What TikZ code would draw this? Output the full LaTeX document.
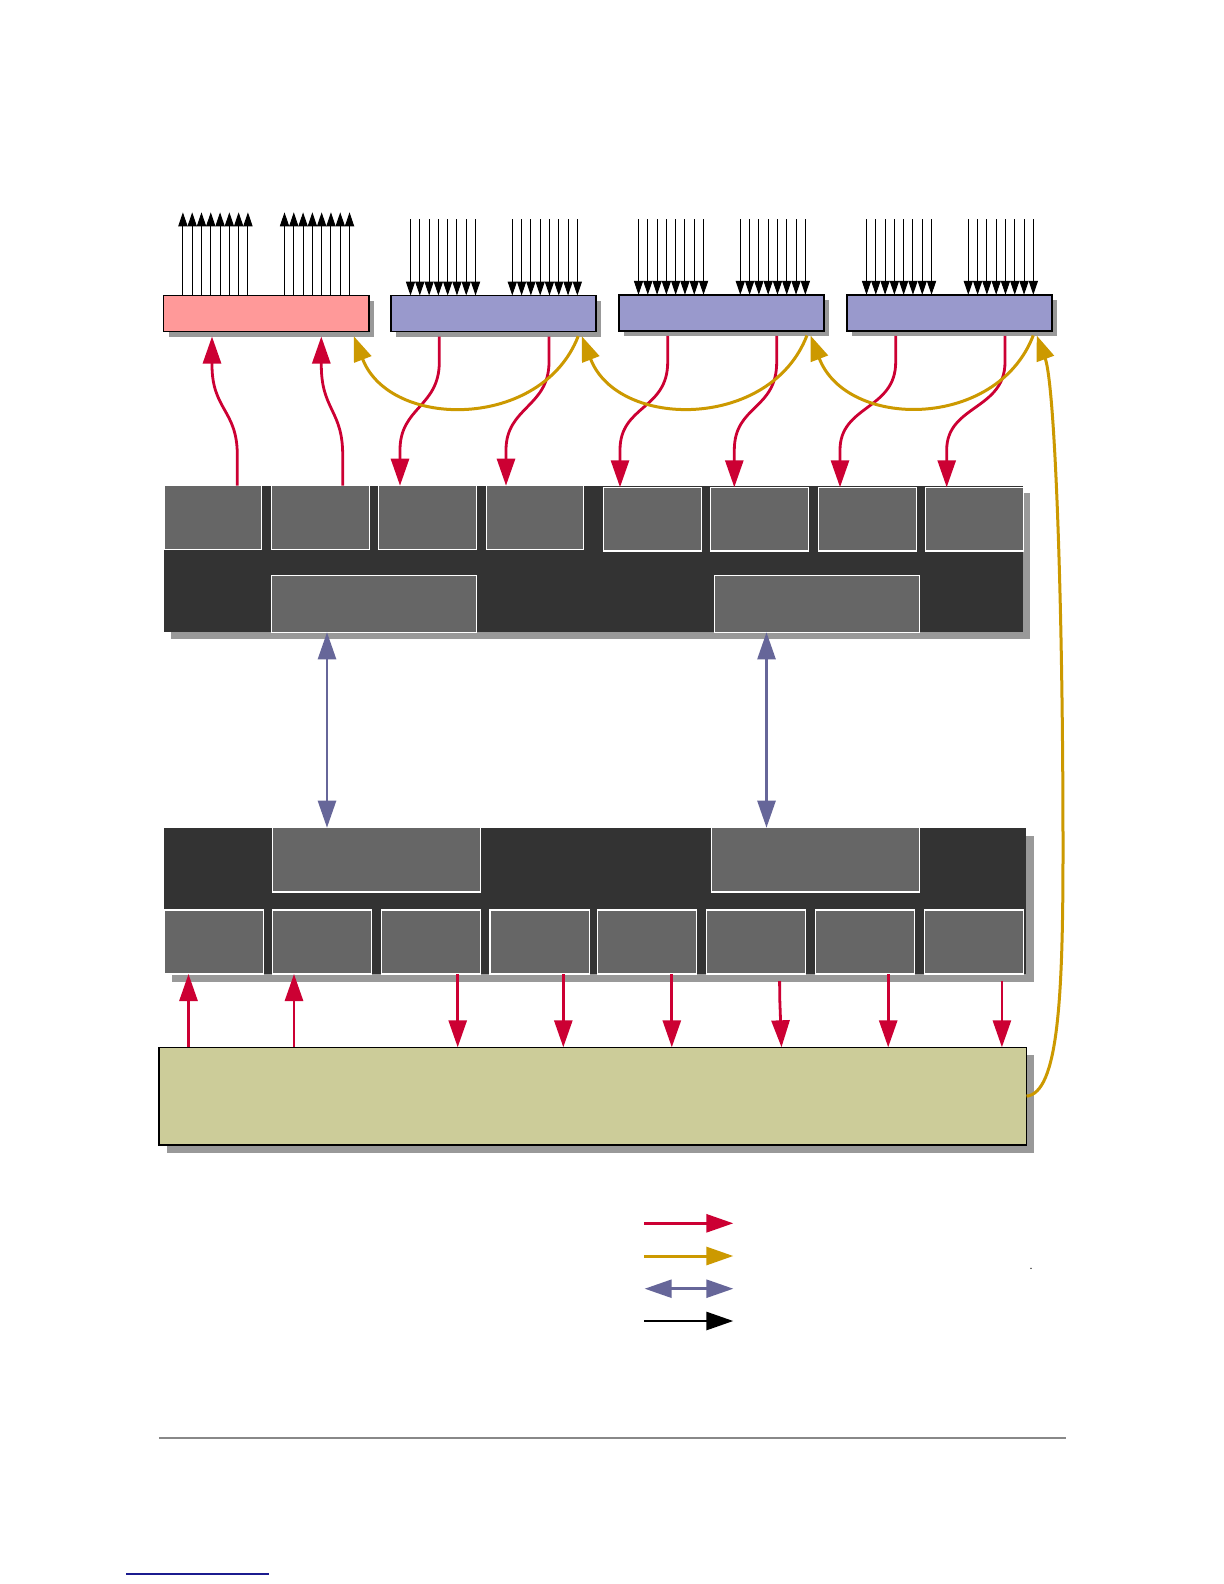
\documentclass[tikz,border=0pt]{standalone}
\usetikzlibrary{arrows.meta,shadows}
\definecolor{redc}{HTML}{CC0033}
\definecolor{goldc}{HTML}{CC9900}
\definecolor{bluearr}{HTML}{666699}
\definecolor{pinkc}{HTML}{FF9999}
\definecolor{bluebox}{HTML}{9999CC}
\definecolor{khakic}{HTML}{CCCC99}
\definecolor{darkc}{HTML}{333333}
\definecolor{subc}{HTML}{666666}
\definecolor{shadowc}{HTML}{999999}
\definecolor{rulec}{HTML}{888888}
\definecolor{linkc}{HTML}{1B1B8F}
\begin{document}
\begin{tikzpicture}[x=0.5pt,y=-0.5pt,
  bx/.style 2 args={rectangle, inner sep=0pt, outer sep=0pt, anchor=north west,
     minimum width=#1*0.5pt, minimum height=#2*0.5pt},
  shad/.style={drop shadow={shadow xshift=#1, shadow yshift=-#1, fill=shadowc, opacity=1}},
  topbox/.style={draw=black, line width=0.9pt, shad=2.5pt},
  block/.style={fill=darkc, shad=#1},
  subbox/.style={fill=subc, draw=white, line width=0.6pt},
  rarr/.style={draw=redc, line width=1.4pt, -{Triangle[length=13.5pt,width=9pt]}},
  garr/.style={draw=goldc, line width=1.5pt, -{Triangle[length=12.5pt,width=9pt]}},
  barr/.style={draw=bluearr, line width=1.3pt, {Triangle[length=13.5pt,width=9pt]}-{Triangle[length=13.5pt,width=9pt]}},
  karr/.style={draw=black, line width=1.4pt, -{Triangle[length=13.5pt,width=9pt]}},
  blk/.style={draw=black, line width=0.5pt, -{Triangle[length=7pt,width=4.6pt]}}
]
\useasboundingbox (0,0) rectangle (1224,1584);
\fill[white] (0,0) rectangle (1224,1584);

% ---------- top boxes ----------
\node[bx={205.5}{36}, topbox, fill=pinkc] (pink) at (163.5,295.5) {};
\node[bx={205}{36}, topbox, fill=bluebox] (b1) at (391.3,295.5) {};
\node[bx={205}{36}, topbox, fill=bluebox] (b2) at (619.3,294.8) {};
\node[bx={205}{36}, topbox, fill=bluebox] (b3) at (847.3,294.8) {};

% ---------- middle block ----------
\node[bx={859.3}{146.6}, block=3.5pt] (mid) at (164,485.7) {};
\node[bx={97.3}{63.6}, subbox] (m1) at (164,485.7) {};
\node[bx={98}{63.6}, subbox] (m2) at (271.3,485.7) {};
\node[bx={98}{63.6}, subbox] (m3) at (378.3,485.7) {};
\node[bx={97}{63.6}, subbox] (m4) at (486.3,485.7) {};
\node[bx={98}{63.7}, subbox] (m5) at (603.3,487.3) {};
\node[bx={98}{63.7}, subbox] (m6) at (710.3,487.3) {};
\node[bx={98}{63.7}, subbox] (m7) at (818.3,487.3) {};
\node[bx={98}{63.7}, subbox] (m8) at (925.3,487.3) {};
\node[bx={205}{57}, subbox] (mA) at (271.3,575.3) {};
\node[bx={205}{57}, subbox] (mB) at (714.3,575.3) {};

% ---------- lower block ----------
\node[bx={862}{146.3}, block=4pt] (low) at (164,827.7) {};
\node[bx={208}{64.3}, subbox] (lA) at (272.3,827.7) {};
\node[bx={208.4}{64.3}, subbox] (lB) at (711.3,827.7) {};
\node[bx={99.7}{64}, subbox] (l1) at (164,910) {};
\node[bx={99.4}{64}, subbox] (l2) at (272.3,910) {};
\node[bx={99.4}{64}, subbox] (l3) at (381.3,910) {};
\node[bx={99.3}{64}, subbox] (l4) at (490,910) {};
\node[bx={99}{64}, subbox] (l5) at (597.3,910) {};
\node[bx={99}{64}, subbox] (l6) at (706.3,910) {};
\node[bx={98.6}{64}, subbox] (l7) at (815.7,910) {};
\node[bx={99}{64}, subbox] (l8) at (924.3,910) {};

% ---------- khaki box ----------
\node[bx={867.5}{97.7}, fill=khakic, draw=black, line width=0.6pt, shad=3.75pt] (khaki) at (159,1047.3) {};

% ---------- black arrow bundles ----------
\foreach \g in {19.4,121}{\foreach \k in {0,...,7}{
  \pgfmathsetmacro\xx{163.5+\g+\k*9.29}
  \coordinate (pend) at (\xx,212.3);
  \draw[blk] (\xx,0 |- pink.north) -- (pend);
}}
\foreach \b/\L in {b1/391.3,b2/619.3,b3/847.3}{\foreach \g in {19.2,121}{\foreach \k in {0,...,7}{
  \pgfmathsetmacro\xx{\L+\g+\k*9.29}
  \coordinate (bstart) at (\xx,219);
  \draw[blk] (bstart) -- (\xx,0 |- \b.north);
}}}

% ---------- red arrows: middle block <-> top boxes ----------
\draw[rarr, shorten >=2.5pt] (237.3,0 |- m1.north) -- (237.3,455) .. controls (237.3,410) and (212,410) .. (212,365) -- (212,0 |- pink.south);
\draw[rarr, shorten >=2.5pt] (342.7,0 |- m2.north) -- (342.7,455) .. controls (342.7,410) and (321.3,410) .. (321.3,365) -- (321.3,0 |- pink.south);

\draw[rarr, shorten <=2.5pt] (439.3,0 |- b1.south) -- (439.3,362) .. controls (439.3,407) and (400,407) .. (400,450) -- (400,0 |- m3.north);
\draw[rarr, shorten <=2.5pt] (549,0 |- b1.south) -- (549,362) .. controls (549,407) and (506,407) .. (506,450) -- (506,0 |- m4.north);
\draw[rarr, shorten <=2.5pt] (667.7,0 |- b2.south) -- (667.7,362) .. controls (667.7,410) and (620,405) .. (620,450) -- (620,0 |- m5.north);
\draw[rarr, shorten <=2.5pt] (776.7,0 |- b2.south) -- (776.7,362) .. controls (776.7,410) and (734.3,405) .. (734.3,450) -- (734.3,0 |- m6.north);
\draw[rarr, shorten <=2.5pt] (895.7,0 |- b3.south) -- (895.7,362) .. controls (895.7,410) and (840,405) .. (840,450) -- (840,0 |- m7.north);
\draw[rarr, shorten <=2.5pt] (1005,0 |- b3.south) -- (1005,362) .. controls (1005,410) and (946.7,405) .. (946.7,450) -- (946.7,0 |- m8.north);

% ---------- gold arrows between top boxes ----------
\draw[garr, shorten <=2.5pt, shorten >=2.5pt] (580,0 |- b1.south) .. controls (542,430) and (390,430) .. (352,0 |- pink.south);
\draw[garr, shorten <=2.5pt, shorten >=2.5pt] (808.7,0 |- b2.south) .. controls (770.7,430) and (618,430) .. (580,0 |- b1.south);
\draw[garr, shorten <=2.5pt, shorten >=2.5pt] (1035,0 |- b3.south) .. controls (997,430) and (846.7,430) .. (808.7,0 |- b2.south);
\draw[garr, shorten >=2.5pt] (khaki.east) .. controls (1058,1093) and (1063,1000) .. (1063,850) .. controls (1063,600) and (1055,385) .. (1035,0 |- b3.south);

% ---------- blue double arrows ----------
\draw[barr] (327,0 |- mA.south) -- (327,0 |- lA.north);
\draw[barr] (766.5,0 |- mB.south) -- (766.5,0 |- lB.north);

% ---------- red arrows: khaki <-> lower block ----------
\draw[rarr] (188.5,0 |- khaki.north) -- (188.5,0 |- l1.south);
\draw[rarr] (294,0 |- khaki.north) -- (294,0 |- l2.south);
\draw[rarr] (457.7,0 |- l3.south) -- (457.7,0 |- khaki.north);
\draw[rarr] (563.3,0 |- l4.south) -- (563.3,0 |- khaki.north);
\draw[rarr] (671.8,0 |- l5.south) -- (671.8,0 |- khaki.north);
\draw[rarr, shorten <=3.5pt] (779.5,0 |- l6.south) -- (779.8,1000) -- (781.5,0 |- khaki.north);
\draw[rarr] (888.2,0 |- l7.south) -- (888.2,0 |- khaki.north);
\draw[rarr, shorten <=3.5pt] (1001.9,0 |- l8.south) -- (1001.9,0 |- khaki.north);

% ---------- legend ----------
\coordinate (lg1a) at (644,1223.3); \coordinate (lg1b) at (733.3,1223.3);
\coordinate (lg2a) at (644,1256);   \coordinate (lg2b) at (733.3,1256);
\coordinate (lg3a) at (644.7,1288.7); \coordinate (lg3b) at (733.3,1288.7);
\coordinate (lg4a) at (644,1321);   \coordinate (lg4b) at (733.3,1321);
\draw[rarr] (lg1a) -- (lg1b);
\draw[garr, -{Triangle[length=13.5pt,width=9pt]}] (lg2a) -- (lg2b);
\draw[barr] (lg3a) -- (lg3b);
\draw[karr] (lg4a) -- (lg4b);
\fill[black] (1031,1268.3) circle (0.7);

% ---------- footer rules ----------
\coordinate (r1) at (158.75,1438); \coordinate (r2) at (1065.6,1438);
\draw[rulec, line width=1pt] (r1) -- (r2);
\coordinate (u1) at (126,1574); \coordinate (u2) at (269,1574);
\draw[linkc, line width=1pt] (u1) -- (u2);
\end{tikzpicture}
\end{document}
